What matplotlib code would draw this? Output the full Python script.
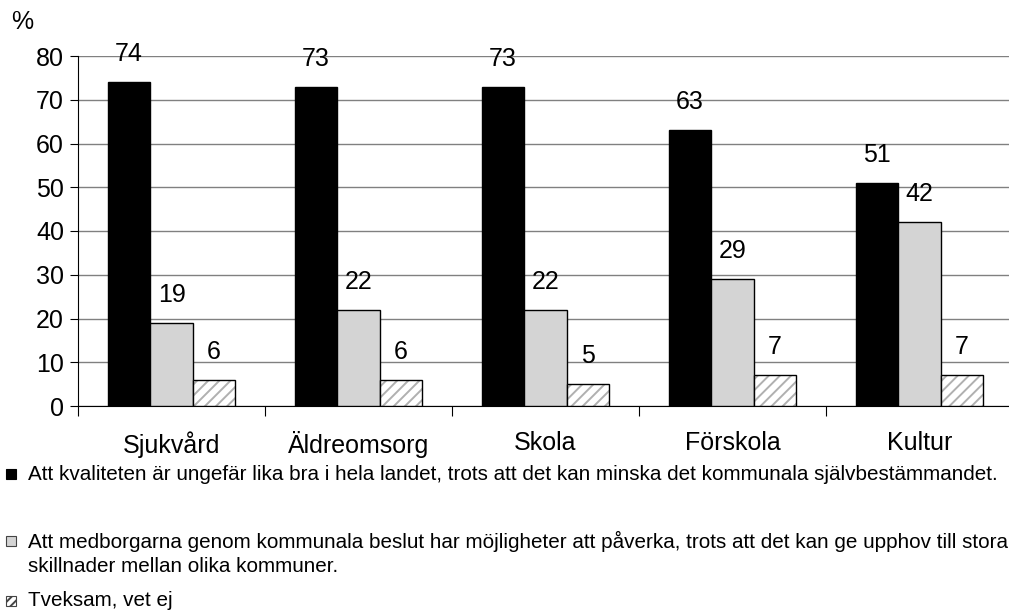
import matplotlib.pyplot as plt
from matplotlib.patches import Rectangle
import numpy as np

plt.rcParams['font.family'] = ['Liberation Sans', 'DejaVu Sans']
plt.rcParams['hatch.linewidth'] = 1.4

#Data
categories = ['Sjukvård', 'Äldreomsorg', 'Skola', 'Förskola', 'Kultur']
kvalitet = [74, 73, 73, 63, 51]
medborgare = [19, 22, 22, 29, 42]
tveksam = [6, 6, 5, 7, 7]
legend_labels = [
    'Att kvaliteten är ungefär lika bra i hela landet, trots att det kan minska det kommunala självbestämmandet.',
    'Att medborgarna genom kommunala beslut har möjligheter att påverka, trots att det kan ge upphov till stora\nskillnader mellan olika kommuner.',
    'Tveksam, vet ej',
]

W, H = 1009, 615
fig = plt.figure(figsize=(W / 100, H / 100), dpi=100)

#Axes placed in pixel units, running a little past the right edge like the original
left, right, bottom, top = 78, 1013, 406, 56
ax = fig.add_axes([left / W, (H - bottom) / H, (right - left) / W, (bottom - top) / H])

x = np.arange(len(categories))
bw = 0.228
fs = 18

b1 = ax.bar(x - bw, kvalitet, bw, color='black', edgecolor='black', linewidth=1, zorder=3)
b2 = ax.bar(x, medborgare, bw, color='#d4d4d4', edgecolor='black', linewidth=1, zorder=3)
#Hatched bar: gray stripes first, then a black outline on top
ax.bar(x + bw, tveksam, bw, color='white', edgecolor='#b0b0b0', hatch='///', linewidth=0, zorder=3)
b3 = ax.bar(x + bw, tveksam, bw, fill=False, edgecolor='black', linewidth=1, zorder=4)

#Value labels above bars
for bars, vals in [(b1, kvalitet), (b2, medborgare), (b3, tveksam)]:
    for bar, v in zip(bars, vals):
        ax.annotate(str(v), (bar.get_x() + bar.get_width() / 2, v),
                    xytext=(0, 28), textcoords='offset pixels',
                    ha='center', va='center', fontsize=fs, zorder=5)

ax.set_xlim(-0.5, len(categories) - 0.5)
ax.set_ylim(0, 80)
ax.set_yticks(range(0, 81, 10))
ax.tick_params(axis='y', labelsize=fs, length=6, direction='out', pad=4)
ax.grid(axis='y', color='#808080', linewidth=1, zorder=0)
ax.set_axisbelow(True)

#Category ticks between groups, labels centred under groups
ax.set_xticks(np.arange(len(categories) + 1) - 0.5)
ax.set_xticklabels([])
ax.set_xticks(x, minor=True)
ax.set_xticklabels(categories, minor=True, fontsize=fs)
ax.tick_params(axis='x', which='major', length=7, direction='out')
ax.tick_params(axis='x', which='minor', length=0, pad=18)

for s in ['top', 'right']:
    ax.spines[s].set_visible(False)
ax.spines['left'].set_color('black')
ax.spines['bottom'].set_color('black')

fig.text(22 / W, 1 - 22 / H, '%', fontsize=fs, ha='center', va='center')

#Manual legend under the chart
styles = [dict(facecolor='black', edgecolor='black'),
          dict(facecolor='#d4d4d4', edgecolor='#444444'),
          dict(facecolor='white', edgecolor='#444444', hatch='////')]
legend_y = [474, 541, 601]
for lab, st, ly in zip(legend_labels, styles, legend_y):
    fig.patches.append(Rectangle((6 / W, 1 - (ly + 5) / H), 10 / W, 10 / H,
                                 transform=fig.transFigure, linewidth=0.8, **st))
    for i, line in enumerate(lab.split('\n')):
        fig.text(28 / W, 1 - (ly + 26 * i) / H, line, fontsize=14.9,
                 ha='left', va='center')

fig.savefig('out.png', dpi=100)
